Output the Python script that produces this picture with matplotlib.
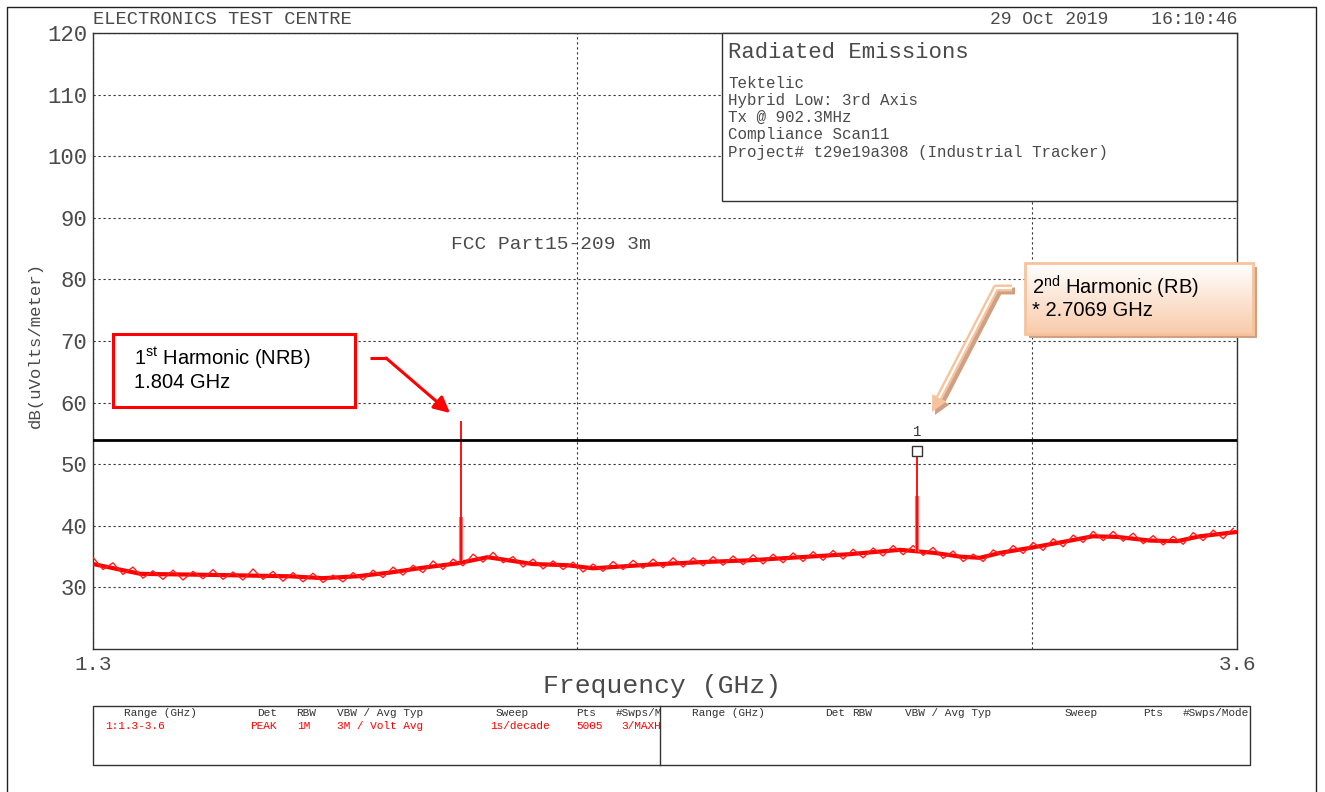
import numpy as np
import matplotlib.pyplot as plt
from matplotlib.patches import Rectangle, Polygon
from matplotlib.colors import LinearSegmentedColormap
from matplotlib.ticker import NullLocator, FixedLocator, FixedFormatter

plt.rcParams['mathtext.fontset'] = 'custom'
plt.rcParams['mathtext.rm'] = 'Liberation Sans'

W, H = 1325, 792
MONO = 'Liberation Mono'
SANS = 'Liberation Sans'
GREY = '#4a4a4a'

######  trace, even steps of the log sweep 1.3 -> ~3.59 GHz
trace_db = [34.9, 32.9, 34.0, 32.1, 33.3, 31.5, 32.7, 31.3, 32.8, 31.2,
            32.6, 31.4, 32.9, 31.3, 32.5, 31.2, 33.0, 31.3, 32.6, 31.0,
            32.4, 30.9, 32.3, 30.8, 32.0, 30.9, 32.4, 31.2, 32.8, 31.6,
            33.3, 32.0, 33.6, 32.4, 34.3, 32.9, 34.6, 33.5, 35.4, 34.1,
            35.7, 34.0, 35.0, 33.3, 34.6, 33.0, 34.3, 32.9, 34.1, 32.5,
            33.8, 32.6, 34.2, 32.9, 34.4, 33.1, 34.6, 33.2, 34.8, 33.3,
            34.8, 33.5, 35.0, 33.6, 35.1, 33.7, 35.3, 33.8, 35.4, 34.0,
            35.6, 34.2, 35.8, 34.4, 36.0, 34.6, 36.2, 34.8, 36.4, 35.1,
            36.8, 35.3, 36.8, 35.2, 36.5, 34.7, 35.9, 34.2, 35.4, 34.2,
            36.1, 35.1, 36.8, 35.5, 37.3, 36.0, 37.9, 36.6, 38.5, 37.3,
            39.1, 37.6, 39.1, 37.5, 38.8, 37.1, 38.4, 36.9, 38.3, 37.0,
            38.9, 37.6, 39.3, 37.9, 39.6]
sweep_start, sweep_stop = 1.3, 3.588

# centre of the noise band
band_ghz = [1.30, 1.356, 1.46, 1.55, 1.595, 1.644, 1.693, 1.744, 1.798, 1.847,
            1.868, 1.923, 1.983, 2.029, 2.135, 2.232, 2.333, 2.439, 2.551, 2.667,
            2.75, 2.813, 2.863, 2.915, 3.002, 3.094, 3.166, 3.235, 3.332, 3.413,
            3.483, 3.60]
band_db = [33.8, 32.2, 32.0, 31.8, 31.5, 31.8, 32.4, 33.2, 33.9, 34.9,
           34.6, 33.8, 33.6, 33.1, 33.7, 34.1, 34.4, 34.9, 35.4, 36.1,
           35.6, 35.0, 34.8, 35.6, 36.5, 37.5, 38.3, 38.2, 37.6, 37.5,
           38.3, 39.0]

spike_ghz = [1.804, 2.7069]
spike_base = [34.3, 35.8]
spike_top = [57.0, 52.0]
spike_mid = [41.5, 44.8]   # lighter lower part of each spike

limit_db = 54.0
marker_ghz, marker_db = 2.7069, 52.1

y_ticks = list(range(30, 121, 10))
x_ticks = [1.3, 2.0, 3.0, 3.6]
x_ticklabels = ['1.3', '', '', '3.6']

info_lines = ['Tektelic', 'Hybrid Low: 3rd Axis', 'Tx @ 902.3MHz',
              'Compliance Scan11', 'Project# t29e19a308 (Industrial Tracker)']

tbl_head1 = [('Range (GHz)', 124), ('Det', 257), ('RBW', 296), ('VBW / Avg Typ', 337),
             ('Sweep', 496), ('Pts', 576), ('#Swps/M', 616)]
tbl_vals1 = [('1:1.3-3.6', 105), ('PEAK', 250), ('1M', 297), ('3M / Volt Avg', 337),
             ('1s/decade', 490), ('5005', 576), ('3/MAXH', 621)]
tbl_head2 = [('Range (GHz)', 692), ('Det', 825), ('RBW', 852), ('VBW / Avg Typ', 905),
             ('Sweep', 1065), ('Pts', 1143), ('#Swps/Mode', 1183)]
##################

fig = plt.figure(figsize=(W / 100, H / 100), dpi=100)
fig.patch.set_facecolor('white')

ax = fig.add_axes([93 / W, 1 - 649 / H, 1144 / W, 616 / H])
ax.set_xscale('log')
ax.set_xlim(1.3, 3.6)
ax.set_ylim(20, 120)

ax.xaxis.set_major_locator(FixedLocator(x_ticks))
ax.xaxis.set_major_formatter(FixedFormatter(x_ticklabels))
ax.xaxis.set_minor_locator(NullLocator())
ax.set_yticks(y_ticks)
ax.tick_params(length=0, colors=GREY)
ax.tick_params(axis='y', pad=4, labelsize=16)
ax.tick_params(axis='x', pad=4, labelsize=15)
for lab in ax.get_xticklabels() + ax.get_yticklabels():
    lab.set_fontfamily(MONO)
ax.grid(True, color='#333333', linestyle=(0, (2, 2.5)), linewidth=0.8)
for sp in ax.spines.values():
    sp.set_color('#333333')
    sp.set_linewidth(1.0)

freq = np.geomspace(sweep_start, sweep_stop, len(trace_db))
ax.plot(band_ghz, band_db, color='#ff0000', lw=3.0, zorder=3, solid_capstyle='butt')
ax.plot(freq, trace_db, color='#ff2020', lw=1.0, zorder=3)
ax.vlines(spike_ghz, spike_base, spike_mid, color='#ff7070', lw=3.0, zorder=3)
ax.vlines(spike_ghz, spike_base, spike_top, color='#ff0000', lw=1.3, zorder=4)
ax.axhline(limit_db, color='black', lw=2.0, zorder=5)
ax.plot(marker_ghz, marker_db, marker='s', ms=7, mfc='white', mec='#333333', mew=1.0, zorder=6)
ax.text(marker_ghz, 55.2, '1', ha='center', va='center', fontsize=10, color='#333333',
        family=MONO, zorder=6)
ax.text(1.954, 85.6, 'FCC Part15-209 3m', ha='center', va='center', fontsize=14,
        color=GREY, family=MONO)

# overlay in pixel coords for the page furniture
ov = fig.add_axes([0, 0, 1, 1], zorder=3)
ov.set_xlim(0, W)
ov.set_ylim(H, 0)
ov.axis('off')
ov.patch.set_visible(False)

ov.plot([7, 7, 1316, 1316], [800, 7, 7, 800], color='#222222', lw=1.0)
ov.text(93, 20, 'ELECTRONICS TEST CENTRE', fontsize=13.5, color=GREY, family=MONO, va='center')
ov.text(1237, 20, '29 Oct 2019    16:10:46', fontsize=13, color=GREY, family=MONO,
        va='center', ha='right')

ov.add_patch(Rectangle((722, 33), 515, 168, fc='white', ec='#333333', lw=1.0))
ov.text(728, 53, 'Radiated Emissions', fontsize=16, color=GREY, family=MONO, va='center')
for i, line in enumerate(info_lines):
    ov.text(728, 83 + i * 17.3, line, fontsize=11.4, color=GREY, family=MONO, va='center')

ov.text(35, 345, 'dB(uVolts/meter)', rotation=90, fontsize=12.5, color=GREY,
        family=MONO, ha='center', va='center')
ov.text(662, 686, 'Frequency (GHz)', fontsize=19, color=GREY, family=MONO,
        ha='center', va='center')

# settings table
ov.add_patch(Rectangle((93, 706), 1157, 59, fill=False, ec='#333333', lw=1.0))
ov.plot([660, 660], [706, 765], color='#333333', lw=1.0)
for txt, x in tbl_head1 + tbl_head2:
    ov.text(x, 713, txt, fontsize=8, color='#333333', family=MONO, va='center')
for txt, x in tbl_vals1:
    ov.text(x, 726, txt, fontsize=8, color='#ff0000', family=MONO, va='center')

# 1st harmonic callout
ov.add_patch(Rectangle((113, 334), 242, 73, fc='white', ec='#ff0000', lw=2.2))
ov.text(134, 358, '1$^{\\mathrm{st}}$ Harmonic (NRB)', fontsize=14.5, family=SANS, va='center')
ov.text(134, 383, '1.804 GHz', fontsize=14.5, family=SANS, va='center')
ov.plot([370, 387], [358, 358], color='#ff0000', lw=2.2, solid_capstyle='butt')
ov.annotate('', xy=(450, 413), xytext=(386, 358),
            arrowprops=dict(arrowstyle='-|>', color='#ff0000', lw=2.2, mutation_scale=24,
                            shrinkA=0, shrinkB=0))

# 2nd harmonic callout
peach, tan = '#f7c39c', '#cfa184'
ov.add_patch(Rectangle((1029, 267), 228, 71, fc=tan, ec='none'))
grad = np.linspace(0, 1, 64).reshape(-1, 1)
cmap = LinearSegmentedColormap.from_list('peach', ['#ffffff', '#f9cbab'])
ov.imshow(grad, extent=(1025, 1253, 334, 263), cmap=cmap, aspect='auto', zorder=2)
ov.add_patch(Rectangle((1025, 263), 228, 71, fill=False, ec=peach, lw=2.0, zorder=3))
ov.text(1032, 287, '2$^{\\mathrm{nd}}$ Harmonic (RB)', fontsize=14.5, family=SANS,
        va='center', zorder=4)
ov.text(1032, 311, '* 2.7069 GHz', fontsize=14.5, family=SANS, va='center', zorder=4)
ov.set_xlim(0, W)
ov.set_ylim(H, 0)

xs = np.array([1012, 996, 939])
ys = np.array([288, 288, 398])
head = np.array([[932, 412], [946.4, 401.5], [932.2, 394.1]])
ov.plot(xs + 3, ys + 3, color=tan, lw=5, solid_capstyle='butt', zorder=2)
ov.add_patch(Polygon(head + 3, closed=True, fc=tan, ec='none', zorder=2))
ov.plot(xs, ys, color=peach, lw=5, solid_capstyle='butt', zorder=3)
ov.add_patch(Polygon(head, closed=True, fc=peach, ec='none', zorder=3))
ov.plot(xs, ys, color='white', lw=1.6, solid_capstyle='butt', zorder=4)

fig.savefig('out.png', dpi=100)
